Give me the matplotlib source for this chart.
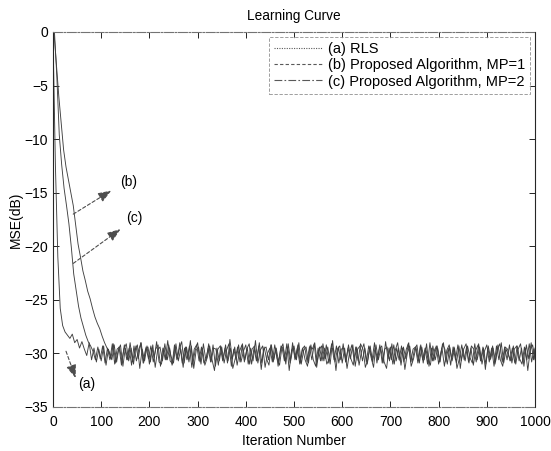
import numpy as np
import matplotlib
matplotlib.use('Agg')
import matplotlib.pyplot as plt
from matplotlib.lines import Line2D

plt.rcParams['font.family'] = ['Liberation Sans', 'DejaVu Sans']

# iteration axis, one sample every 5 iterations; the three runs are
# logged on staggered iterations
iters = np.arange(0, 1001, 5)
iters_a = iters
iters_b = np.minimum(iters + 2, 1000)
iters_c = np.minimum(iters + 3, 1000)

# (a) RLS
rls_db = [
    -0.3, -12.5, -21.0, -25.8, -27.4, -28.0, -28.3, -28.6, -28.2, -29.0,
    -28.7, -29.5, -28.9, -29.6, -30.2, -29.0, -30.6, -29.5, -30.8, -29.6,
    -30.7, -29.3, -31.1, -29.6, -30.5, -29.1, -30.9, -29.8, -29.2, -31.2,
    -29.5, -30.6, -29.0, -30.8, -29.7, -29.2, -31.4, -29.6, -30.7, -29.3,
    -31.0, -29.5, -30.4, -28.9, -30.8, -31.0, -29.5, -30.6, -29.2, -30.3,
    -30.9, -29.1, -30.7, -29.6, -31.3, -29.4, -30.5, -28.8, -31.0, -29.7,
    -29.0, -30.8, -29.5, -31.1, -30.4, -29.3, -30.6, -31.6, -29.5, -30.7,
    -29.4, -30.9, -29.7, -29.1, -31.2, -29.6, -30.6, -29.2, -30.8, -29.8,
    -29.2, -31.0, -29.5, -30.7, -28.8, -30.9, -29.7, -29.3, -31.3, -30.0,
    -29.5, -30.8, -29.2, -30.5, -31.1, -29.4, -30.7, -29.1, -31.6, -29.7,
    -29.3, -30.6, -29.0, -31.0, -29.7, -29.4, -30.9, -29.2, -30.6, -31.2,
    -29.5, -30.7, -29.1, -30.5, -29.4, -31.0, -28.8, -30.8, -29.6, -29.3,
    -30.9, -29.5, -31.4, -30.0, -29.2, -30.7, -29.4, -31.1, -29.8, -29.1,
    -30.8, -29.3, -30.4, -31.3, -29.2, -30.6, -29.5, -30.9, -28.9, -30.5,
    -29.4, -31.0, -29.7, -29.0, -30.7, -29.5, -31.5, -30.0, -29.3, -30.8,
    -29.6, -29.2, -30.9, -29.4, -30.6, -29.1, -31.2, -29.5, -30.7, -29.3,
    -31.0, -29.8, -29.0, -30.8, -29.5, -31.1, -29.4, -30.6, -29.2, -31.4,
    -29.5, -30.7, -29.3, -30.4, -30.9, -29.1, -30.6, -29.4, -31.0, -29.8,
    -29.2, -30.8, -29.5, -31.2, -29.3, -30.6, -29.0, -30.9, -29.6, -30.2,
    -30.7, -29.3, -31.0, -29.6, -29.1, -30.8, -29.5, -31.6, -29.7, -29.2,
    -30.5,
]

# (b) proposed algorithm, MP=1
mp1_db = [
    0.0, -3.0, -6.0, -8.5, -11.0, -12.6, -13.8, -15.0, -16.2, -18.0,
    -19.8, -21.0, -22.3, -23.2, -24.2, -24.9, -25.8, -26.6, -27.2, -27.7,
    -28.4, -29.0, -29.5, -29.9, -30.6, -29.2, -30.8, -29.4, -31.1, -29.6,
    -29.1, -30.7, -29.5, -31.0, -29.3, -30.5, -29.0, -30.9, -29.6, -29.4,
    -30.8, -29.2, -31.3, -29.7, -29.4, -30.7, -29.1, -30.6, -29.5, -31.1,
    -29.2, -30.6, -29.6, -28.9, -30.9, -29.4, -30.8, -29.3, -31.4, -29.7,
    -29.4, -31.0, -29.1, -30.6, -29.5, -30.8, -29.2, -31.2, -29.6, -29.3,
    -30.7, -29.5, -30.9, -28.7, -30.5, -29.4, -31.1, -29.8, -29.2, -30.8,
    -29.6, -29.1, -31.0, -29.5, -30.7, -29.3, -31.5, -29.6, -29.4, -30.6,
    -29.2, -30.8, -29.5, -31.2, -29.7, -29.1, -30.7, -29.4, -30.9, -29.0,
    -30.6, -29.5, -31.0, -29.6, -29.3, -30.8, -29.4, -30.6, -29.1, -31.3,
    -29.7, -29.3, -30.7, -29.2, -30.9, -29.5, -29.6, -31.6, -29.4, -30.6,
    -29.1, -30.8, -29.5, -30.5, -29.2, -31.2, -29.6, -29.3, -30.7, -29.5,
    -31.0, -29.4, -30.6, -29.0, -30.9, -29.6, -29.3, -30.8, -31.4, -29.5,
    -30.6, -29.2, -30.7, -29.5, -31.1, -29.4, -30.5, -29.1, -30.8, -29.6,
    -29.4, -30.9, -29.3, -30.6, -29.5, -31.0, -29.0, -30.7, -29.6, -29.3,
    -30.8, -29.5, -31.2, -29.7, -29.2, -30.6, -29.4, -30.9, -29.3, -30.7,
    -29.6, -29.1, -30.8, -29.5, -31.1, -29.7, -29.2, -30.7, -29.4, -31.5,
    -29.5, -30.6, -29.3, -31.0, -29.6, -29.1, -30.8, -29.4, -30.6, -29.2,
    -30.9, -29.6, -29.3, -30.7, -29.5, -31.2, -29.2, -30.5, -29.0, -30.6,
    -29.5,
]

# (c) proposed algorithm, MP=2
mp2_db = [
    0.0, -4.2, -9.6, -12.4, -14.6, -16.2, -17.9, -20.1, -22.6, -24.1,
    -25.6, -26.7, -27.5, -28.3, -28.9, -29.3, -29.8, -30.6, -29.4, -30.5,
    -29.3, -30.9, -29.5, -30.6, -29.1, -31.0, -29.6, -29.4, -30.8, -29.2,
    -30.6, -29.5, -31.1, -29.3, -30.7, -29.6, -29.0, -30.9, -29.4, -30.5,
    -29.3, -30.8, -29.6, -29.2, -31.2, -29.5, -30.6, -28.8, -30.7, -31.0,
    -29.4, -30.5, -29.0, -30.9, -29.5, -30.6, -29.3, -31.3, -29.6, -29.2,
    -30.7, -29.4, -30.9, -30.5, -29.1, -30.8, -29.5, -29.6, -31.1, -29.3,
    -30.6, -29.2, -30.7, -29.5, -31.4, -30.5, -29.4, -30.8, -29.1, -30.6,
    -29.5, -31.0, -29.6, -29.3, -30.7, -29.0, -30.9, -29.4, -30.5, -31.1,
    -29.2, -30.6, -29.5, -30.8, -29.3, -29.6, -31.0, -29.1, -30.7, -29.4,
    -30.5, -29.2, -30.9, -29.5, -30.6, -31.2, -29.3, -29.6, -29.0, -30.8,
    -29.4, -30.7, -29.5, -31.0, -30.5, -29.1, -30.6, -29.3, -30.9, -29.6,
    -29.5, -30.8, -29.2, -30.5, -31.1, -29.4, -30.7, -29.1, -29.6, -31.3,
    -30.6, -29.3, -30.8, -29.5, -30.5, -29.2, -30.9, -29.6, -29.4, -30.7,
    -29.1, -31.0, -29.5, -30.6, -29.3, -30.8, -29.6, -29.0, -31.2, -30.5,
    -29.4, -30.7, -29.2, -30.9, -29.5, -30.5, -31.1, -29.3, -30.6, -29.5,
    -30.8, -29.1, -29.6, -31.0, -29.4, -30.7, -29.5, -31.4, -30.5, -29.2,
    -30.6, -29.4, -30.9, -29.3, -29.6, -30.8, -29.1, -30.7, -29.5, -31.0,
    -29.3, -30.5, -29.5, -30.8, -29.2, -30.6, -31.2, -29.4, -29.6, -30.7,
    -29.5, -30.9, -29.3, -30.5, -31.0, -29.4, -30.6, -29.1, -30.8, -29.6,
    -30.6,
]

labels = ['(a) RLS', '(b) Proposed Algorithm, MP=1', '(c) Proposed Algorithm, MP=2']
styles = [(0, (1, 1.2)), (0, (3, 2)), (0, (7, 2, 1.5, 2))]

fig = plt.figure(figsize=(5.51, 4.51), dpi=100)
ax = fig.add_axes([0.0962, 0.0976, 0.8748, 0.8315])

for x, y in zip([iters_a, iters_b, iters_c], [rls_db, mp1_db, mp2_db]):
    ax.plot(x, y, color='0.25', lw=0.65)

ax.set_xlim(0, 1000)
ax.set_ylim(-35, 0)
ax.set_xticks(range(0, 1001, 100))
ax.set_yticks(range(-35, 1, 5))
ax.tick_params(direction='in', top=True, right=True, length=4, width=0.6,
               labelsize=10)
ax.tick_params(axis='x', pad=5.5)
ax.tick_params(axis='y', pad=3.5)
for side, sp in ax.spines.items():
    sp.set_linewidth(0.8)
    sp.set_color('0.15')
# top and bottom frame lines are broken up, as printed
for side in ['top', 'bottom']:
    ax.spines[side].set_color('0.45')
    ax.spines[side].set_linestyle((0, (8, 1.5, 1.5, 1.5)))

ax.set_title('Learning Curve', fontsize=9.8, pad=8.5)
ax.set_xlabel('Iteration Number', fontsize=10, labelpad=4)
ax.set_ylabel('MSE(dB)', fontsize=10, labelpad=1)

handles = [Line2D([], [], color='0.35', lw=0.8, ls=ls) for ls in styles]
leg = ax.legend(handles, labels, loc='upper right', fontsize=10.5, frameon=True,
                fancybox=False, edgecolor='0.45', handlelength=3.3,
                handletextpad=0.4, borderaxespad=0.35, labelspacing=0.15,
                borderpad=0.35)
leg.get_frame().set_linewidth(0.6)
leg.get_frame().set_linestyle((0, (4, 2)))

# curve labels with dashed pointers
arrow = dict(arrowstyle='-|>,head_length=0.8,head_width=0.3', color='0.3',
             lw=0.8, ls=(0, (3, 2)), shrinkA=0, shrinkB=0)
ax.annotate('', xy=(121, -14.8), xytext=(42, -17.0), arrowprops=arrow)
ax.text(140, -14.0, '(b)', fontsize=10, va='center')
ax.annotate('', xy=(140, -18.4), xytext=(42, -21.6), arrowprops=arrow)
ax.text(152, -17.4, '(c)', fontsize=10, va='center')
ax.annotate('', xy=(47, -32.3), xytext=(27, -29.8), arrowprops=arrow)
ax.text(52, -32.9, '(a)', fontsize=10, va='center')

fig.savefig('out.png', dpi=100)
